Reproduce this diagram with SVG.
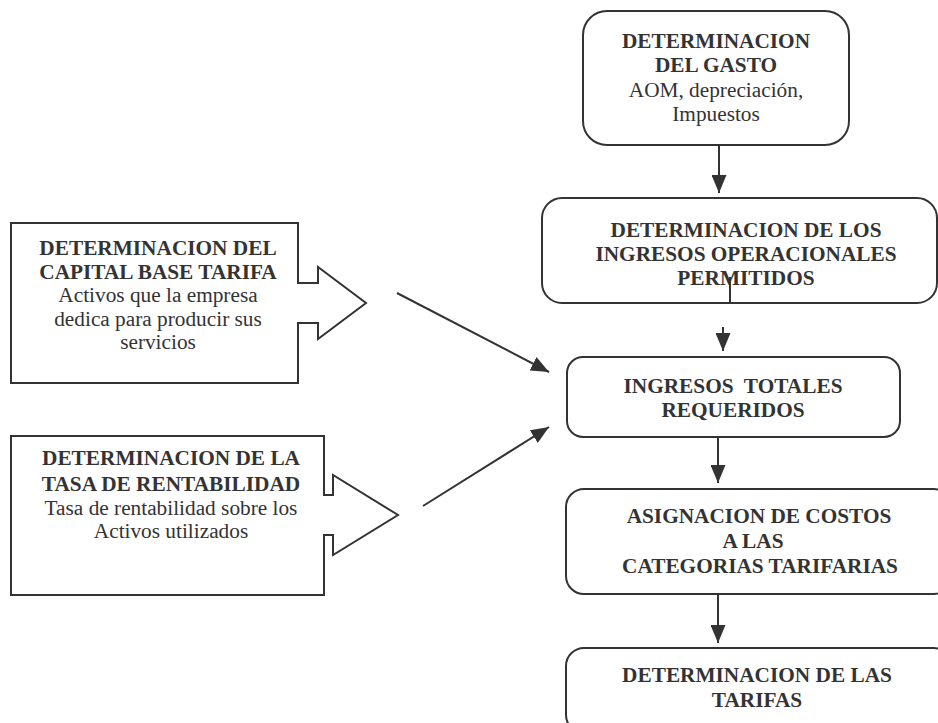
<svg xmlns="http://www.w3.org/2000/svg" width="938" height="723" viewBox="0 0 938 723">
<style>
.box{fill:#fff;stroke:#333;stroke-width:2}
text{font-family:'Liberation Serif','DejaVu Serif',serif;font-size:21.3px;fill:#333;text-anchor:middle}
.b{font-weight:bold}
.c{stroke:#333;stroke-width:2;fill:none}
</style>
<defs>
<marker id="ah" markerUnits="userSpaceOnUse" markerWidth="18" markerHeight="15" refX="18" refY="7.5" orient="auto">
<path d="M0,0 L18,7.5 L0,15 z" fill="#333"/>
</marker>
</defs>
<rect width="938" height="723" fill="#fff"/>
<g id="gasto">
<rect class="box" x="583" y="11" width="266" height="134" rx="24"/>
<text class="b" x="716" y="48">DETERMINACION</text>
<text class="b" x="716" y="72">DEL GASTO</text>
<text x="716" y="97">AOM, depreciación,</text>
<text x="716" y="121">Impuestos</text>
</g>
<g id="ingresos-op">
<rect class="box" x="542" y="198" width="395" height="105" rx="20"/>
<text class="b" x="746" y="237">DETERMINACION DE LOS</text>
<text class="b" x="746" y="261">INGRESOS OPERACIONALES</text>
<text class="b" x="746" y="285">PERMITIDOS</text>
</g>
<g id="ingresos-tot">
<rect class="box" x="567" y="357" width="333" height="80" rx="16"/>
<text class="b" x="733" y="393" xml:space="preserve">INGRESOS  TOTALES</text>
<text class="b" x="733" y="417">REQUERIDOS</text>
</g>
<g id="asignacion">
<rect class="box" x="566" y="489" width="386" height="105" rx="18"/>
<text class="b" x="759" y="523">ASIGNACION DE COSTOS</text>
<text class="b" x="753" y="548">A LAS</text>
<text class="b" x="760" y="573">CATEGORIAS TARIFARIAS</text>
</g>
<g id="tarifas">
<rect class="box" x="566" y="648" width="386" height="85" rx="18"/>
<text class="b" x="757" y="682">DETERMINACION DE LAS</text>
<text class="b" x="757" y="707">TARIFAS</text>
</g>
<g id="capital">
<path class="box" d="M11,223 H298 V283 H318 V267 L366,303 L318,339 V323 H298 V383 H11 Z"/>
<text class="b" x="158" y="255">DETERMINACION DEL</text>
<text class="b" x="158" y="279">CAPITAL BASE TARIFA</text>
<text x="158" y="302">Activos que la empresa</text>
<text x="158" y="326">dedica para producir sus</text>
<text x="158" y="349">servicios</text>
</g>
<g id="tasa">
<path class="box" d="M11,436 H324 V495 H333 V475 L398,515 L333,555 V535 H324 V595 H11 Z"/>
<text class="b" x="171" y="465">DETERMINACION DE LA</text>
<text class="b" x="171" y="491">TASA DE RENTABILIDAD</text>
<text x="171" y="515">Tasa de rentabilidad sobre los</text>
<text x="171" y="538">Activos utilizados</text>
</g>
<g id="connectors">
<line class="c" x1="719" y1="145" x2="719" y2="193" marker-end="url(#ah)"/>
<line class="c" x1="730" y1="277" x2="730" y2="303"/>
<line class="c" x1="723" y1="327" x2="723" y2="351" marker-end="url(#ah)"/>
<line class="c" x1="718" y1="437" x2="718" y2="483" marker-end="url(#ah)"/>
<line class="c" x1="718" y1="594" x2="718" y2="643" marker-end="url(#ah)"/>
<line class="c" x1="397" y1="293" x2="549" y2="372" marker-end="url(#ah)"/>
<line class="c" x1="423" y1="506" x2="549" y2="427" marker-end="url(#ah)"/>
</g>
</svg>
